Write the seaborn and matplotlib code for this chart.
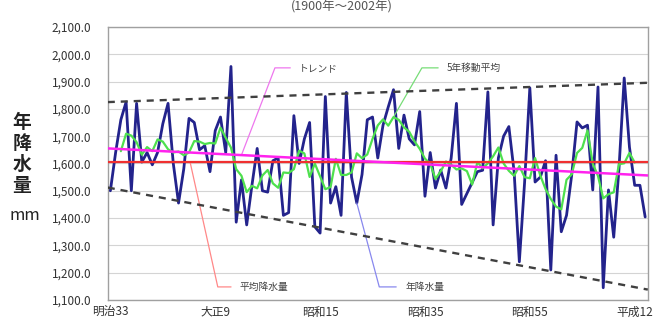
import numpy as np
import pandas as pd
import seaborn as sns
import matplotlib.pyplot as plt


# 年降水量 (mm), 1900-2002
years = list(range(1900, 2003))
rain = [
    1500, 1640, 1760, 1825, 1500, 1820, 1605, 1640, 1595, 1640,
    1745, 1820, 1600, 1455, 1580, 1765, 1750, 1650, 1665, 1570,
    1720, 1770, 1640, 1955, 1385, 1540, 1375, 1520, 1655, 1500,
    1495, 1610, 1620, 1410, 1420, 1775, 1600, 1690, 1750, 1368,
    1345, 1845, 1455, 1515, 1410, 1860, 1550, 1455, 1560, 1760,
    1770, 1620, 1740, 1807, 1870, 1655, 1777, 1690, 1668, 1790,
    1480, 1640, 1510, 1576, 1510, 1620, 1820, 1450, 1490, 1530,
    1570, 1575, 1862, 1375, 1620, 1700, 1735, 1570, 1240, 1530,
    1877, 1532, 1550, 1610, 1210, 1630, 1350, 1410, 1560, 1752,
    1730, 1740, 1503, 1880, 1145, 1503, 1330, 1580, 1913, 1660,
    1520, 1520, 1404,
]

era_ticks = [1900, 1920, 1940, 1960, 1980, 2000]
era_labels = ["明治33", "大正9", "昭和15", "昭和35", "昭和55", "平成12"]

# hand-drawn envelope lines (value at 1900 and at 2002)
env_years = [1900, 2002]
env_upper = [1825, 1895]
env_lower = [1510, 1140]

df = pd.DataFrame({"year": years, "rain": rain})
df["ma5"] = df["rain"].rolling(5, center=True).mean()
mean_rain = df["rain"].mean()
slope, intercept = np.polyfit(df["year"], df["rain"], 1)

sns.set_theme(style="white")
plt.rcParams["font.family"] = ["Noto Sans CJK JP", "DejaVu Sans"]

fig = plt.figure(figsize=(6.57, 3.24), dpi=100)
ax = fig.add_axes([0.164, 0.074, 0.822, 0.843])

sns.lineplot(data=df, x="year", y="rain", color="#23238c", lw=2.0, ax=ax, zorder=3)
sns.lineplot(data=df, x="year", y="ma5", color="#4ee04e", lw=1.6, ax=ax, zorder=4)
ax.axhline(mean_rain, color="#f03030", lw=1.6, zorder=5)
ax.axline((1900, intercept + slope * 1900), slope=slope, color="#ff22ee", lw=1.8, zorder=5)

ax.axline((env_years[0], env_upper[0]), (env_years[1], env_upper[1]),
          color="#404040", lw=1.7, ls=(0, (3, 2.5)), zorder=6)
ax.axline((env_years[0], env_lower[0]), (env_years[1], env_lower[1]),
          color="#404040", lw=1.7, ls=(0, (3, 2.5)), zorder=6)

ax.set_xlim(1899.5, 2002.5)
ax.set_ylim(1100, 2100)
ax.set_yticks(range(1100, 2101, 100))
ax.set_yticklabels([f"{v:,.1f}" for v in range(1100, 2101, 100)], fontsize=8.5, color="#333333")
ax.set_xticks(era_ticks)
ax.set_xticklabels(era_labels, fontsize=8.5, color="#333333")
ax.tick_params(length=0, pad=4)
ax.tick_params(axis="y", pad=12)
ax.yaxis.grid(True, color="#d4d4d4", lw=0.8)
ax.set_axisbelow(True)
for s in ax.spines.values():
    s.set_color("#a0a0a0")
    s.set_linewidth(1)
ax.set_xlabel("")
ax.set_ylabel("")

# callouts
ax.annotate("トレンド", xy=(1925, intercept + slope * 1925), xytext=(1936, 1950),
            fontsize=7, color="#444444", va="center", ha="left",
            arrowprops=dict(arrowstyle="-", color="#ee77ee", lw=0.9,
                            relpos=(0, 0.5), shrinkA=4, shrinkB=0,
                            connectionstyle="angle,angleA=0,angleB=69,rad=0"))
ax.annotate("5年移動平均", xy=(1954, df["ma5"][54]), xytext=(1964.2, 1950),
            fontsize=7, color="#444444", va="center", ha="left",
            arrowprops=dict(arrowstyle="-", color="#77dd77", lw=0.9,
                            relpos=(0, 0.5), shrinkA=4, shrinkB=0,
                            connectionstyle="angle,angleA=0,angleB=60,rad=0"))
ax.annotate("平均降水量", xy=(1915.2, mean_rain), xytext=(1924.7, 1148),
            fontsize=7, color="#444444", va="center", ha="left",
            arrowprops=dict(arrowstyle="-", color="#ff8888", lw=0.9,
                            relpos=(0, 0.5), shrinkA=4, shrinkB=0,
                            connectionstyle="angle,angleA=0,angleB=-77.5,rad=0"))
ax.annotate("年降水量", xy=(1947, rain[47]), xytext=(1956.2, 1148),
            fontsize=7, color="#444444", va="center", ha="left",
            arrowprops=dict(arrowstyle="-", color="#8888ee", lw=0.9,
                            relpos=(0, 0.5), shrinkA=4, shrinkB=0,
                            connectionstyle="angle,angleA=0,angleB=-75,rad=0"))

fig.text(22 / 657, 1 - 154 / 324, "年\n降\n水\n量", fontsize=13.5, fontweight="bold",
         ha="center", va="center", linespacing=1.12, color="#222222")
fig.text(25 / 657, 1 - 215 / 324, "mm", fontsize=12, ha="center", va="center", color="#222222")
fig.text(342 / 657, 1 - 7 / 324, "(1900年～2002年)", fontsize=9, ha="center", va="center",
         color="#555555")

fig.savefig("out.png", dpi=100)
